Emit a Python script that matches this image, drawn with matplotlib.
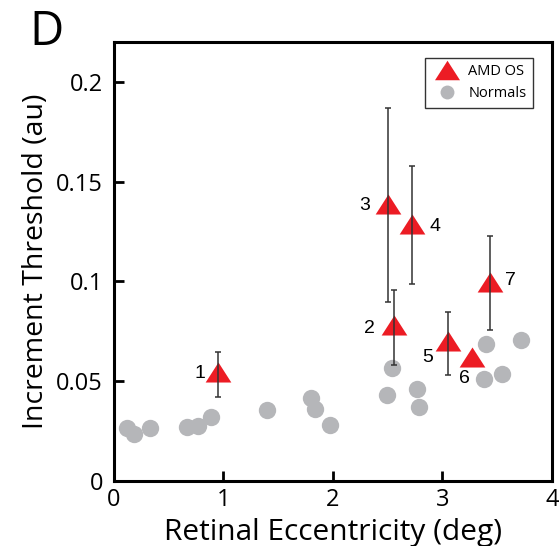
import numpy as np
import matplotlib.pyplot as plt
from matplotlib.lines import Line2D

plt.rcParams['font.family'] = ['Open Sans', 'DejaVu Sans']

# Normal subjects (gray dots)
norm_ecc = [0.12, 0.186, 0.33, 0.666, 0.77, 0.885, 1.40, 1.80, 1.836, 1.97,
            2.49, 2.535, 2.763, 2.787, 3.376, 3.395, 3.547, 3.72]
norm_thr = [0.0264, 0.0234, 0.0267, 0.0272, 0.0277, 0.0322, 0.0356, 0.0418, 0.0359, 0.0279,
            0.0431, 0.0568, 0.0460, 0.0369, 0.0513, 0.0685, 0.0535, 0.0707]

# AMD patients (red triangles) with error bar limits (nan = no bar)
amd_id = ['1', '2', '3', '4', '5', '6', '7']
amd_ecc = [0.952, 2.556, 2.505, 2.723, 3.051, 3.273, 3.437]
amd_thr = [0.0546, 0.078, 0.139, 0.129, 0.0703, 0.0623, 0.0999]
amd_lo = [0.042, 0.0581, 0.0899, 0.0986, 0.0531, np.nan, 0.0757]
amd_hi = [0.0647, 0.0957, 0.187, 0.158, 0.0847, np.nan, 0.1228]

# label offsets (points) for patient numbers
lab_off = [(-13, -0.7), (-17.3, -2.4), (-16.8, -1.2), (16.3, -2.4), (-15, -12), (-6, -15.5), (14.4, 1.2)]

red = '#ec1c24'
grey = '#b5b6b9'
tri = [(0, 0.78), (-1, -0.78), (1, -0.78)]

fig = plt.figure(figsize=(5.6, 5.46), dpi=100)
ax = fig.add_axes([0.2036, 0.119, 0.782, 0.804])

ax.plot(norm_ecc, norm_thr, 'o', ms=12.5, color=grey, mec='none', zorder=2)
ax.plot(amd_ecc, amd_thr, linestyle='none', marker=tri, ms=18.5, color=red, mec='none', zorder=3)

thr = np.array(amd_thr)
lo = np.array(amd_lo)
hi = np.array(amd_hi)
m = ~np.isnan(lo)
yerr = [thr[m] - lo[m], hi[m] - thr[m]]
ax.errorbar(np.array(amd_ecc)[m], thr[m], yerr=yerr, fmt='none', ecolor='#333333', elinewidth=1.1,
            capsize=2.3, capthick=1.1, zorder=4)

for i, lab in enumerate(amd_id):
    ax.annotate(lab, (amd_ecc[i], amd_thr[i]), xytext=lab_off[i], textcoords='offset points',
                ha='center', va='center', fontsize=14, family=['Liberation Sans', 'DejaVu Sans'])

ax.set_xlim(0, 4)
ax.set_ylim(0, 0.22)
ax.set_xticks([0, 1, 2, 3, 4])
ax.set_yticks([0, 0.05, 0.1, 0.15, 0.2])
ax.set_yticklabels(['0', '0.05', '0.1', '0.15', '0.2'])
ax.tick_params(direction='in', length=7, width=2, labelsize=17, pad=5)
ax.tick_params(axis='y', pad=8)
for s in ax.spines.values():
    s.set_linewidth(2.2)

ax.set_xlabel('Retinal Eccentricity (deg)', fontsize=21.5, labelpad=4)
ax.set_ylabel('Increment Threshold (au)', fontsize=20.5, labelpad=4)

handles = [Line2D([], [], linestyle='none', marker=tri, ms=18, color=red, mec='none'),
           Line2D([], [], linestyle='none', marker='o', ms=10, color=grey, mec='none')]
leg = ax.legend(handles, ['AMD OS', 'Normals'], loc='upper right', bbox_to_anchor=(0.957, 0.964),
                fontsize=10.5, frameon=True, fancybox=False, edgecolor='black',
                handletextpad=0.5, borderpad=0.45, labelspacing=0.45, handlelength=2.0,
                borderaxespad=0)
leg.get_frame().set_linewidth(1)

fig.text(0.052, 0.985, 'D', fontsize=34, va='top', ha='left')

fig.savefig('out.png', dpi=100)
